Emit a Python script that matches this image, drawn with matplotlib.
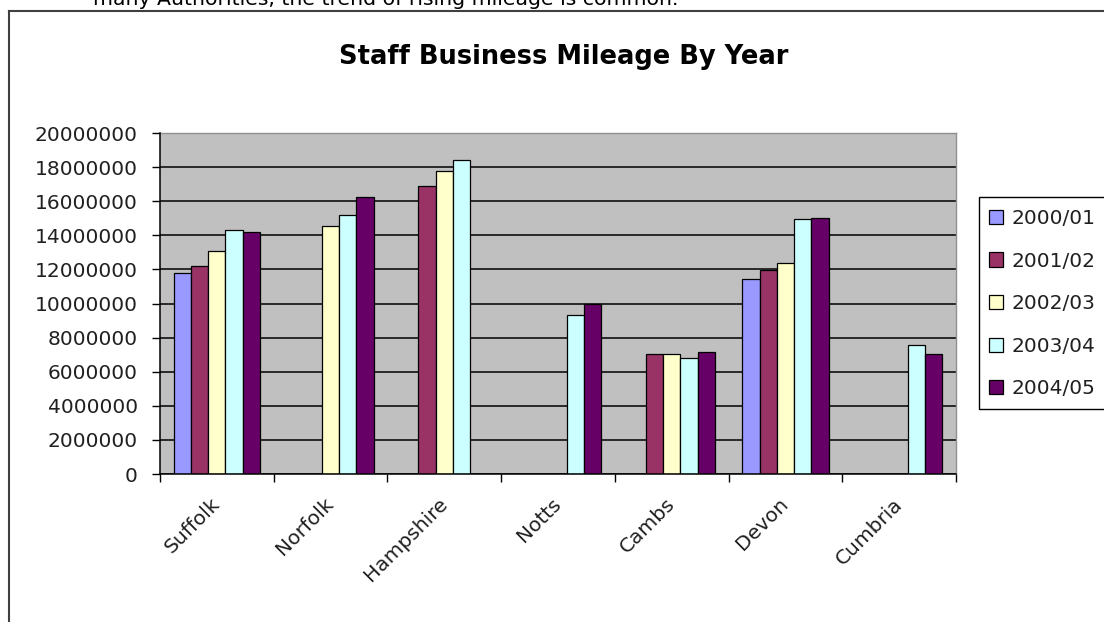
import numpy as np
import matplotlib
matplotlib.use("Agg")
import matplotlib.pyplot as plt
from matplotlib.patches import Rectangle
from matplotlib.lines import Line2D

plt.rcParams['font.family'] = ['DejaVu Sans']

counties = ["Suffolk", "Norfolk", "Hampshire", "Notts", "Cambs", "Devon", "Cumbria"]
years = ["2000/01", "2001/02", "2002/03", "2003/04", "2004/05"]
nan = np.nan
mileage_2000_01 = [11790000, nan, nan, nan, nan, 11430000, nan]
mileage_2001_02 = [12180000, nan, 16880000, nan, 7030000, 11980000, nan]
mileage_2002_03 = [13100000, 14570000, 17800000, nan, 7010000, 12350000, nan]
mileage_2003_04 = [14310000, 15210000, 18440000, 9340000, 6830000, 14960000, 7560000]
mileage_2004_05 = [14200000, 16230000, nan, 9970000, 7130000, 15040000, 7030000]
series = [mileage_2000_01, mileage_2001_02, mileage_2002_03, mileage_2003_04, mileage_2004_05]
colors = ["#9999FF", "#993366", "#FFFFCC", "#CCFFFF", "#660066"]
y_ticks = list(range(0, 20000001, 2000000))

W, H = 1104, 622
fig = plt.figure(figsize=(W / 100, H / 100), dpi=100)

def fx(px):
    return px / W

def fy(py):
    return 1 - py / H

# outer chart frame
fig.add_artist(Line2D([fx(9), fx(9)], [fy(11), fy(640)], color="#404040", lw=1.5))
fig.add_artist(Line2D([fx(9), fx(1110)], [fy(11), fy(11)], color="#404040", lw=1.5))

# running text of the surrounding document, clipped at the top edge
fig.text(fx(93), fy(5), "many Authorities, the trend of rising mileage is common.",
         fontsize=14.7, ha="left", va="baseline", color="black")

ax = fig.add_axes([fx(160), fy(474), fx(956) - fx(160), fy(133) - fy(474)])
ax.set_facecolor("#C0C0C0")

x = np.arange(len(counties))
bw = 0.152
for i, (vals, c, lab) in enumerate(zip(series, colors, years)):
    ax.bar(x + (i - 2) * bw, vals, width=bw, color=c, edgecolor="black",
           linewidth=0.9, label=lab, zorder=3)

ax.set_xlim(-0.5, len(counties) - 0.5)
ax.set_ylim(0, 20000000)
ax.set_yticks(y_ticks)
ax.set_yticklabels([str(v) for v in y_ticks])
ax.yaxis.grid(True, color="black", linewidth=1.1, zorder=1)
ax.set_axisbelow(True)

ax.set_xticks(np.arange(-0.5, len(counties), 1.0))
ax.set_xticklabels([])
ax.tick_params(axis="x", direction="out", length=6, width=1.0, color="black")
ax.tick_params(axis="y", direction="out", length=6, width=1.0, color="black",
               pad=10, labelsize=14.5, labelcolor="#202020")

for s in ["left", "bottom"]:
    ax.spines[s].set_color("black")
    ax.spines[s].set_linewidth(1.1)
    ax.spines[s].set_zorder(4)
for s in ["top", "right"]:
    ax.spines[s].set_color("#909090")
    ax.spines[s].set_linewidth(1.0)

for xi, name in zip(x, counties):
    ax.annotate(name, xy=(xi, 0), xycoords=("data", "axes fraction"),
                xytext=(0, -27), textcoords="offset pixels",
                rotation=45, rotation_mode="anchor", ha="right", va="center",
                fontsize=14.5, color="#202020")

fig.text(fx(564), fy(64), "Staff Business Mileage By Year", ha="center",
         va="baseline", fontsize=18.5, fontweight="bold")

# legend box
fig.add_artist(Rectangle((fx(979), fy(409)), fx(1110) - fx(979), fy(197) - fy(409),
                         transform=fig.transFigure, facecolor="white",
                         edgecolor="black", linewidth=1.0))
leg = fig.legend(loc="upper left", bbox_to_anchor=(fx(989), fy(209)),
                 frameon=False, fontsize=14.5, handlelength=0.7,
                 handleheight=0.7, handletextpad=0.4, labelspacing=1.17,
                 borderpad=0.0, borderaxespad=0.0)
for t in leg.get_texts():
    t.set_color("#202020")

fig.savefig("out.png", dpi=100)
